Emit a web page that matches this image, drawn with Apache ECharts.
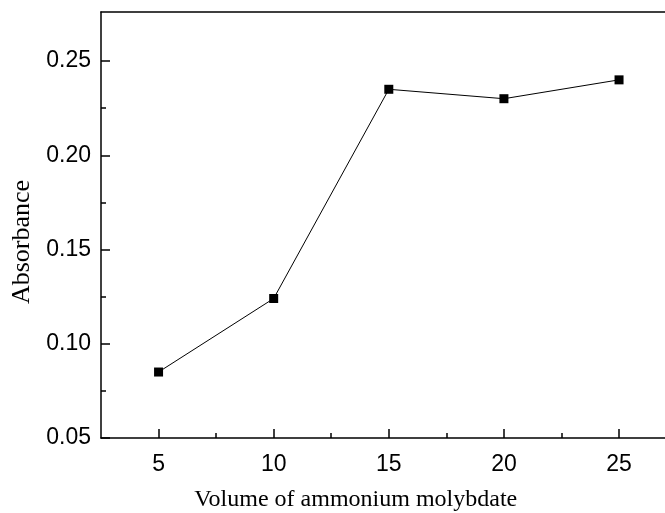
<!DOCTYPE html>
<html>
<head>
<meta charset="utf-8">
<script src="https://cdn.jsdelivr.net/npm/echarts@6/dist/echarts.min.js"></script>
<style>html,body{margin:0;padding:0;background:#fff;}#c{width:665px;height:513px;}</style>
</head>
<body>
<div id="c"></div>
<script>
const volumes = [5, 10, 15, 20, 25];
const absorbance = [0.085, 0.124, 0.235, 0.230, 0.240];
const xMajorTicks = [5, 10, 15, 20, 25];
const xMinorTicks = [7.5, 12.5, 17.5, 22.5];
const yMajorTicks = [0.05, 0.10, 0.15, 0.20, 0.25];
const yMinorTicks = [0.075, 0.125, 0.175, 0.225];
const xTitle = 'Volume of ammonium molybdate';
const yTitle = 'Absorbance';

const chart = echarts.init(document.getElementById('c'), null, {renderer: 'canvas'});
const lineStyle = {color: '#000', width: 1.5};
const tickFont = {fontFamily: 'Liberation Sans', fontSize: 23, color: '#000'};
const xMin = 2.5, xMax = 27.5, yMin = 0.05, yMax = 0.276;

chart.setOption({
  animation: false,
  backgroundColor: '#fff',
  grid: {left: 101, top: 12, width: 575.6, height: 426, containLabel: false, outerBoundsMode: 'none'},
  xAxis: [
    {
      type: 'value', min: xMin, max: xMax, position: 'bottom',
      axisLine: {show: true, lineStyle: lineStyle, onZero: false},
      axisTick: {show: true, inside: true, length: 9, lineStyle: lineStyle, customValues: xMajorTicks},
      axisLabel: {show: true, margin: 15, customValues: xMajorTicks, formatter: v => String(v), ...tickFont},
      splitLine: {show: false},
      name: xTitle, nameLocation: 'middle', nameGap: 50,
      nameTextStyle: {fontFamily: 'Liberation Serif', fontSize: 24, color: '#000', padding: [0, 66, 0, 0]}
    },
    {
      type: 'value', min: xMin, max: xMax, position: 'bottom',
      axisLine: {show: false, onZero: false},
      axisTick: {show: true, inside: true, length: 5, lineStyle: lineStyle, customValues: xMinorTicks},
      axisLabel: {show: false},
      splitLine: {show: false}
    },
    {
      type: 'value', min: xMin, max: xMax, position: 'top',
      axisLine: {show: true, lineStyle: lineStyle, onZero: false},
      axisTick: {show: false}, axisLabel: {show: false}, splitLine: {show: false}
    }
  ],
  yAxis: [
    {
      type: 'value', min: yMin, max: yMax, position: 'left',
      axisLine: {show: true, lineStyle: lineStyle, onZero: false},
      axisTick: {show: true, inside: true, length: 9, lineStyle: lineStyle, customValues: yMajorTicks},
      axisLabel: {show: true, margin: 10, customValues: yMajorTicks, formatter: v => v.toFixed(2), ...tickFont},
      splitLine: {show: false},
      name: yTitle, nameLocation: 'middle', nameGap: 64, nameRotate: 90,
      nameTextStyle: {fontFamily: 'Liberation Serif', fontSize: 26, color: '#000', padding: [0, 34, 0, 0]}
    },
    {
      type: 'value', min: yMin, max: yMax, position: 'left',
      axisLine: {show: false, onZero: false},
      axisTick: {show: true, inside: true, length: 5, lineStyle: lineStyle, customValues: yMinorTicks},
      axisLabel: {show: false},
      splitLine: {show: false}
    }
  ],
  series: [{
    type: 'line',
    xAxisIndex: 0, yAxisIndex: 0,
    data: volumes.map((v, i) => [v, absorbance[i]]),
    symbol: 'rect', symbolSize: 9,
    itemStyle: {color: '#000'},
    lineStyle: {color: '#000', width: 1},
    z: 5
  }]
});
</script>
</body>
</html>
